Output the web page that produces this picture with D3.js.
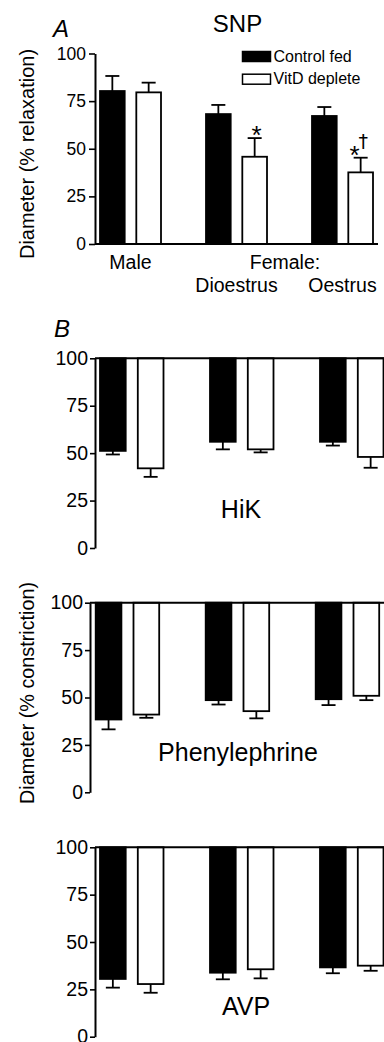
<!DOCTYPE html>
<html>
<head>
<meta charset="utf-8">
<script src="https://cdn.jsdelivr.net/npm/d3@7"></script>
<style>
  body { margin: 0; background: #fff; }
  svg { display: block; font-family: "Liberation Sans", Arial, sans-serif; }
</style>
</head>
<body>
<div id="chart"></div>
<script>
// categories / series
var groups = ["Male", "Dioestrus", "Oestrus"];
var series = ["Control fed", "VitD deplete"];
var yTicks = [0, 25, 50, 75, 100];

// A - SNP (% relaxation), mean and SEM
var snpControl = [80.3, 68.2, 67.2];
var snpControlErr = [7.9, 4.8, 4.7];
var snpVitD = [79.6, 45.8, 37.6];
var snpVitDErr = [5.1, 9.8, 7.7];
// significance marks (vs control / vs male)
var snpMarks = [
  { group: "Dioestrus", star: "*", dagger: "" },
  { group: "Oestrus", star: "*", dagger: "\u2020" },
];

// B - diameter (% constriction), mean and SEM
var hikControl = [51.2, 56, 56];
var hikControlErr = [1.9, 4, 2];
var hikVitD = [42, 52, 48];
var hikVitDErr = [4.5, 1.6, 5.7];

var pheControl = [38.4, 48.6, 49.1];
var pheControlErr = [5.2, 2.3, 3.1];
var pheVitD = [41, 42.8, 50.9];
var pheVitDErr = [1.7, 3.8, 2.3];

var avpControl = [30.5, 33.8, 36.6];
var avpControlErr = [4.6, 3.5, 3.1];
var avpVitD = [27.8, 35.6, 37.5];
var avpVitDErr = [4.6, 4.8, 2.7];

var W = 384, H = 1042;
var FONT = "Liberation Sans, Arial, sans-serif";

var svg = d3.select("#chart").append("svg")
  .attr("width", W)
  .attr("height", H)
  .attr("fill", "#000");

function drawPanel(p) {
  var g = svg.append("g");

  var y = d3.scaleLinear().domain([0, 100]).range([p.y0, p.y100]);
  var x = d3.scaleBand().domain(groups)
    .range([p.x0, p.x0 + p.step * groups.length]);
  var xs = d3.scaleBand().domain(series).range([0, p.inner]).paddingInner(0.32);

  var rows = [];
  groups.forEach(function (grp, i) {
    series.forEach(function (s, j) {
      rows.push({ group: grp, series: s, mean: p.means[j][i], err: p.errs[j][i] });
    });
  });

  var base = p.down ? 100 : 0;
  var sign = p.down ? -1 : 1;
  var cx = function (d) { return x(d.group) + xs(d.series) + xs.bandwidth() / 2; };

  // error bars
  var eb = g.selectAll(".err").data(rows).join("g").attr("class", "err");
  eb.append("line")
    .attr("x1", cx).attr("x2", cx)
    .attr("y1", function (d) { return y(d.mean); })
    .attr("y2", function (d) { return y(d.mean + sign * d.err); })
    .attr("stroke", "#000").attr("stroke-width", 1.8);
  eb.append("line")
    .attr("x1", function (d) { return cx(d) - 7; })
    .attr("x2", function (d) { return cx(d) + 7; })
    .attr("y1", function (d) { return y(d.mean + sign * d.err); })
    .attr("y2", function (d) { return y(d.mean + sign * d.err); })
    .attr("stroke", "#000").attr("stroke-width", 1.8);

  // bars
  g.selectAll(".bar").data(rows).join("rect")
    .attr("class", "bar")
    .attr("x", function (d) { return x(d.group) + xs(d.series); })
    .attr("width", xs.bandwidth())
    .attr("y", function (d) { return Math.min(y(d.mean), y(base)); })
    .attr("height", function (d) { return Math.abs(y(d.mean) - y(base)); })
    .attr("fill", function (d) { return d.series === series[0] ? "#000" : "#fff"; })
    .attr("stroke", "#000")
    .attr("stroke-width", 1.8);

  // baseline (bottom for A, top for B)
  g.append("line")
    .attr("x1", p.axisX).attr("x2", p.lineEnd)
    .attr("y1", y(base)).attr("y2", y(base))
    .attr("stroke", "#000").attr("stroke-width", 2);

  // y axis
  g.append("g")
    .attr("transform", "translate(" + p.axisX + ",0)")
    .call(d3.axisLeft(y).tickValues(yTicks).tickSize(p.tickSize)
      .tickPadding(p.tickPad).tickSizeOuter(0))
    .attr("font-family", FONT)
    .attr("font-size", p.tickFont)
    .call(function (a) { a.select(".domain").attr("stroke-width", 2); })
    .call(function (a) { a.selectAll(".tick line").attr("stroke-width", 1.6); })
    .call(function (a) { a.selectAll(".tick text").attr("fill", "#000"); });

  // panel title
  g.append("text")
    .attr("x", p.titleX).attr("y", p.titleY)
    .attr("text-anchor", "middle")
    .attr("font-size", p.titleFont)
    .text(p.title);

  return { x: x, xs: xs, y: y, g: g };
}

// ---------- Panel A ----------
var A = drawPanel({
  title: "SNP", titleX: 237.5, titleY: 32, titleFont: 24,
  means: [snpControl, snpVitD], errs: [snpControlErr, snpVitDErr],
  y0: 244, y100: 53.5, x0: 100, step: 106, inner: 61,
  axisX: 95, lineEnd: 378, tickSize: 6, tickPad: 3, tickFont: 17.5,
  down: false,
});

// significance marks
snpMarks.forEach(function (m) {
  var i = groups.indexOf(m.group);
  var cap = A.y(snpVitD[i] + snpVitDErr[i]);
  var cx = A.x(m.group) + A.xs(series[1]) + A.xs.bandwidth() / 2;
  var off = m.dagger ? -6 : 2;
  A.g.append("text")
    .attr("x", cx + off).attr("y", cap + 6)
    .attr("text-anchor", "middle")
    .attr("font-size", 26)
    .attr("fill", "#000")
    .text(m.star);
  if (m.dagger) {
    A.g.append("text")
      .attr("x", cx + 2.5).attr("y", cap - 10)
      .attr("text-anchor", "middle")
      .attr("font-family", "DejaVu Sans, sans-serif")
      .attr("font-size", 19)
      .attr("fill", "#000")
      .text(m.dagger);
  }
});

// x labels for A
A.g.selectAll(".xlab").data(groups).join("text")
  .attr("class", "xlab")
  .attr("x", function (d) { return A.x(d) + 30.5; })
  .attr("y", function (d) { return d === "Male" ? 268.5 : 292; })
  .attr("text-anchor", "middle")
  .attr("font-size", 19.5)
  .text(function (d) { return d; });

A.g.append("text")
  .attr("x", (A.x("Dioestrus") + A.x("Oestrus")) / 2 + 26)
  .attr("y", 268.5)
  .attr("text-anchor", "middle")
  .attr("font-size", 19.5)
  .text("Female:");

// legend
var leg = svg.append("g").attr("transform", "translate(242.5,51.5)");
leg.selectAll("rect").data(series).join("rect")
  .attr("x", 0)
  .attr("y", function (d, i) { return i * 22.7; })
  .attr("width", 28)
  .attr("height", 10)
  .attr("fill", function (d, i) { return i === 0 ? "#000" : "#fff"; })
  .attr("stroke", "#000")
  .attr("stroke-width", 1.5);
leg.selectAll("text").data(series).join("text")
  .attr("x", 31)
  .attr("y", function (d, i) { return i * 22.7 + 10; })
  .attr("font-size", 16)
  .text(function (d) { return d; });

// panel letters
svg.append("text").attr("x", 53).attr("y", 37)
  .attr("font-size", 24).attr("font-style", "italic").text("A");
svg.append("text").attr("x", 54).attr("y", 337)
  .attr("font-size", 24).attr("font-style", "italic").text("B");

// y axis titles
svg.append("text")
  .attr("transform", "translate(33.5,154) rotate(-90)")
  .attr("text-anchor", "middle")
  .attr("font-size", 20)
  .text("Diameter (% relaxation)");
svg.append("text")
  .attr("transform", "translate(33.5,693) rotate(-90)")
  .attr("text-anchor", "middle")
  .attr("font-size", 19.8)
  .text("Diameter (% constriction)");

// ---------- Panel B ----------
drawPanel({
  title: "HiK", titleX: 241, titleY: 518, titleFont: 25,
  means: [hikControl, hikVitD], errs: [hikControlErr, hikVitDErr],
  y0: 548, y100: 358.3, x0: 100, step: 110, inner: 63.5,
  axisX: 95, lineEnd: 384, tickSize: 5, tickPad: 2, tickFont: 19.5,
  down: true,
});

drawPanel({
  title: "Phenylephrine", titleX: 238, titleY: 761, titleFont: 25,
  means: [pheControl, pheVitD], errs: [pheControlErr, pheVitDErr],
  y0: 792.3, y100: 602.7, x0: 95.7, step: 110, inner: 63.5,
  axisX: 90, lineEnd: 384, tickSize: 5, tickPad: 2, tickFont: 19.5,
  down: true,
});

drawPanel({
  title: "AVP", titleX: 246, titleY: 1015, titleFont: 25,
  means: [avpControl, avpVitD], errs: [avpControlErr, avpVitDErr],
  y0: 1036.7, y100: 847.3, x0: 100, step: 110, inner: 63.5,
  axisX: 95, lineEnd: 384, tickSize: 5, tickPad: 2, tickFont: 19.5,
  down: true,
});
</script>
</body>
</html>
